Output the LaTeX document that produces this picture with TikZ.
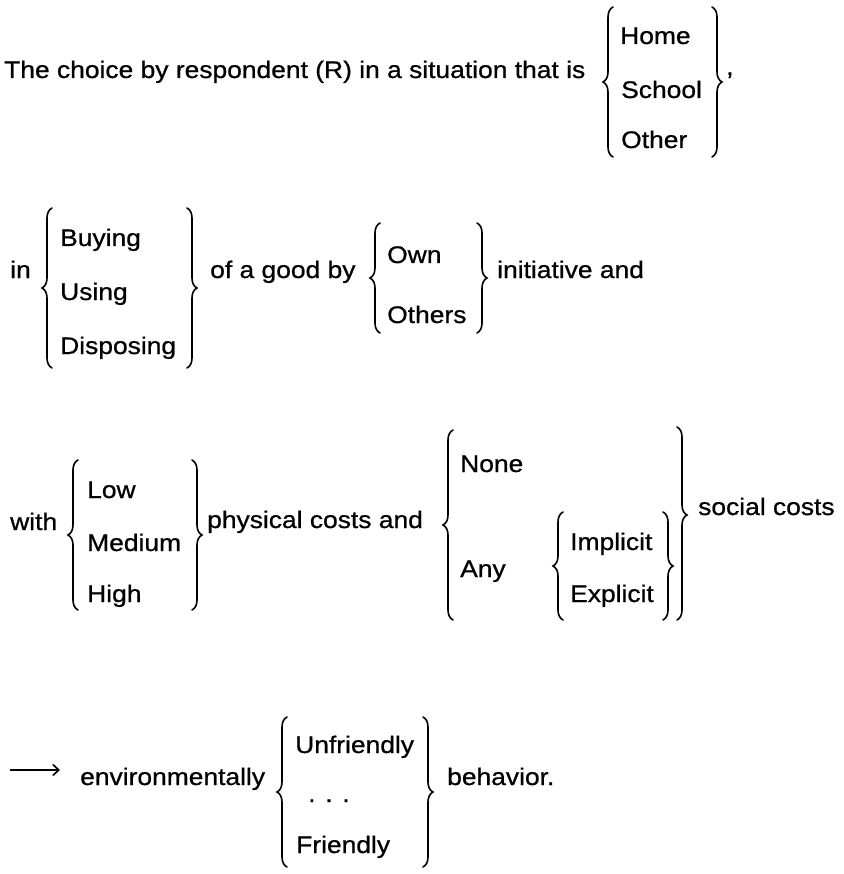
\documentclass[tikz,border=0pt]{standalone}
\usepackage{fontspec}
\setmainfont[FakeStretch=1.1, FakeBold=0.8]{Liberation Sans}
\usetikzlibrary{arrows.meta, decorations.pathreplacing, positioning, calc}
\tikzset{
  word/.style={anchor=base west, inner sep=0pt, font=\fontsize{24}{28}\selectfont},
  curly/.style={decorate, decoration={brace, amplitude=10pt}, line width=1.6pt, line cap=round},
  leadsto/.style={-{Straight Barb[length=6pt, width=11pt, line width=1.6pt]}, line width=1.6pt}
}
\begin{document}
\begin{tikzpicture}[x=1pt, y=-1pt]
\useasboundingbox (0,0) rectangle (843,874);

% Situation
\node[word] (intro) at (4,78) {The choice by respondent (R) in a situation that is};
\node[word] (home) at (620,44) {Home};
\node[word] (school) at (621,98) {School};
\node[word] (other) at (621,148) {Other};
\node[word] (comma) at (726,75) {,};
\draw[curly] (613,157) -- (613,7);
\draw[curly] (712,7) -- (712,157);

% Action and initiative
\node[word] (in) at (10,278) {in};
\node[word] (buying) at (60,246) {Buying};
\node[word] (using) at (60,300) {Using};
\node[word] (disposing) at (60,354) {Disposing};
\node[word] (good) at (210,278) {of a good by};
\node[word] (own) at (387,263) {Own};
\node[word] (others) at (387,323) {Others};
\node[word] (initiative) at (497,278) {initiative and};
\draw[curly] (52,368) -- (52,208);
\draw[curly] (187,208) -- (187,368);
\draw[curly] (380,333) -- (380,223);
\draw[curly] (477,223) -- (477,333);

% Costs
\node[word] (with) at (10,530) {with};
\node[word] (low) at (87,498) {Low};
\node[word] (medium) at (87,551) {Medium};
\node[word] (high) at (87,602) {High};
\node[word] (physical) at (207,528) {physical costs and};
\node[word] (none) at (460,472) {None};
\node[word] (any) at (460,577) {Any};
\node[word] (implicit) at (570,550) {Implicit};
\node[word] (explicit) at (570,602) {Explicit};
\node[word] (social) at (698,515) {social costs};
\draw[curly] (78,610) -- (78,460);
\draw[curly] (192,460) -- (192,610);
\draw[curly] (453,620) -- (453,430);
\draw[curly] (563,620) -- (563,512);
\draw[curly] (663,512) -- (663,620);
\draw[curly, decoration={aspect=0.456}] (677,427) -- (677,620);

% Behavior
\coordinate (tail) at (10,770);
\node[word] (environ) at (80,785) {environmentally};
\node[word] (unfriendly) at (295,753) {Unfriendly};
\node[word] (dots) at (308,802) {. . .};
\node[word] (friendly) at (296,853) {Friendly};
\node[word] (behavior) at (447,785) {behavior.};
\draw[curly] (287,867) -- (287,717);
\draw[curly] (423,717) -- (423,867);
\draw[leadsto, shorten >=20pt] (tail) -- (tail -| environ.west);

\end{tikzpicture}
\end{document}
